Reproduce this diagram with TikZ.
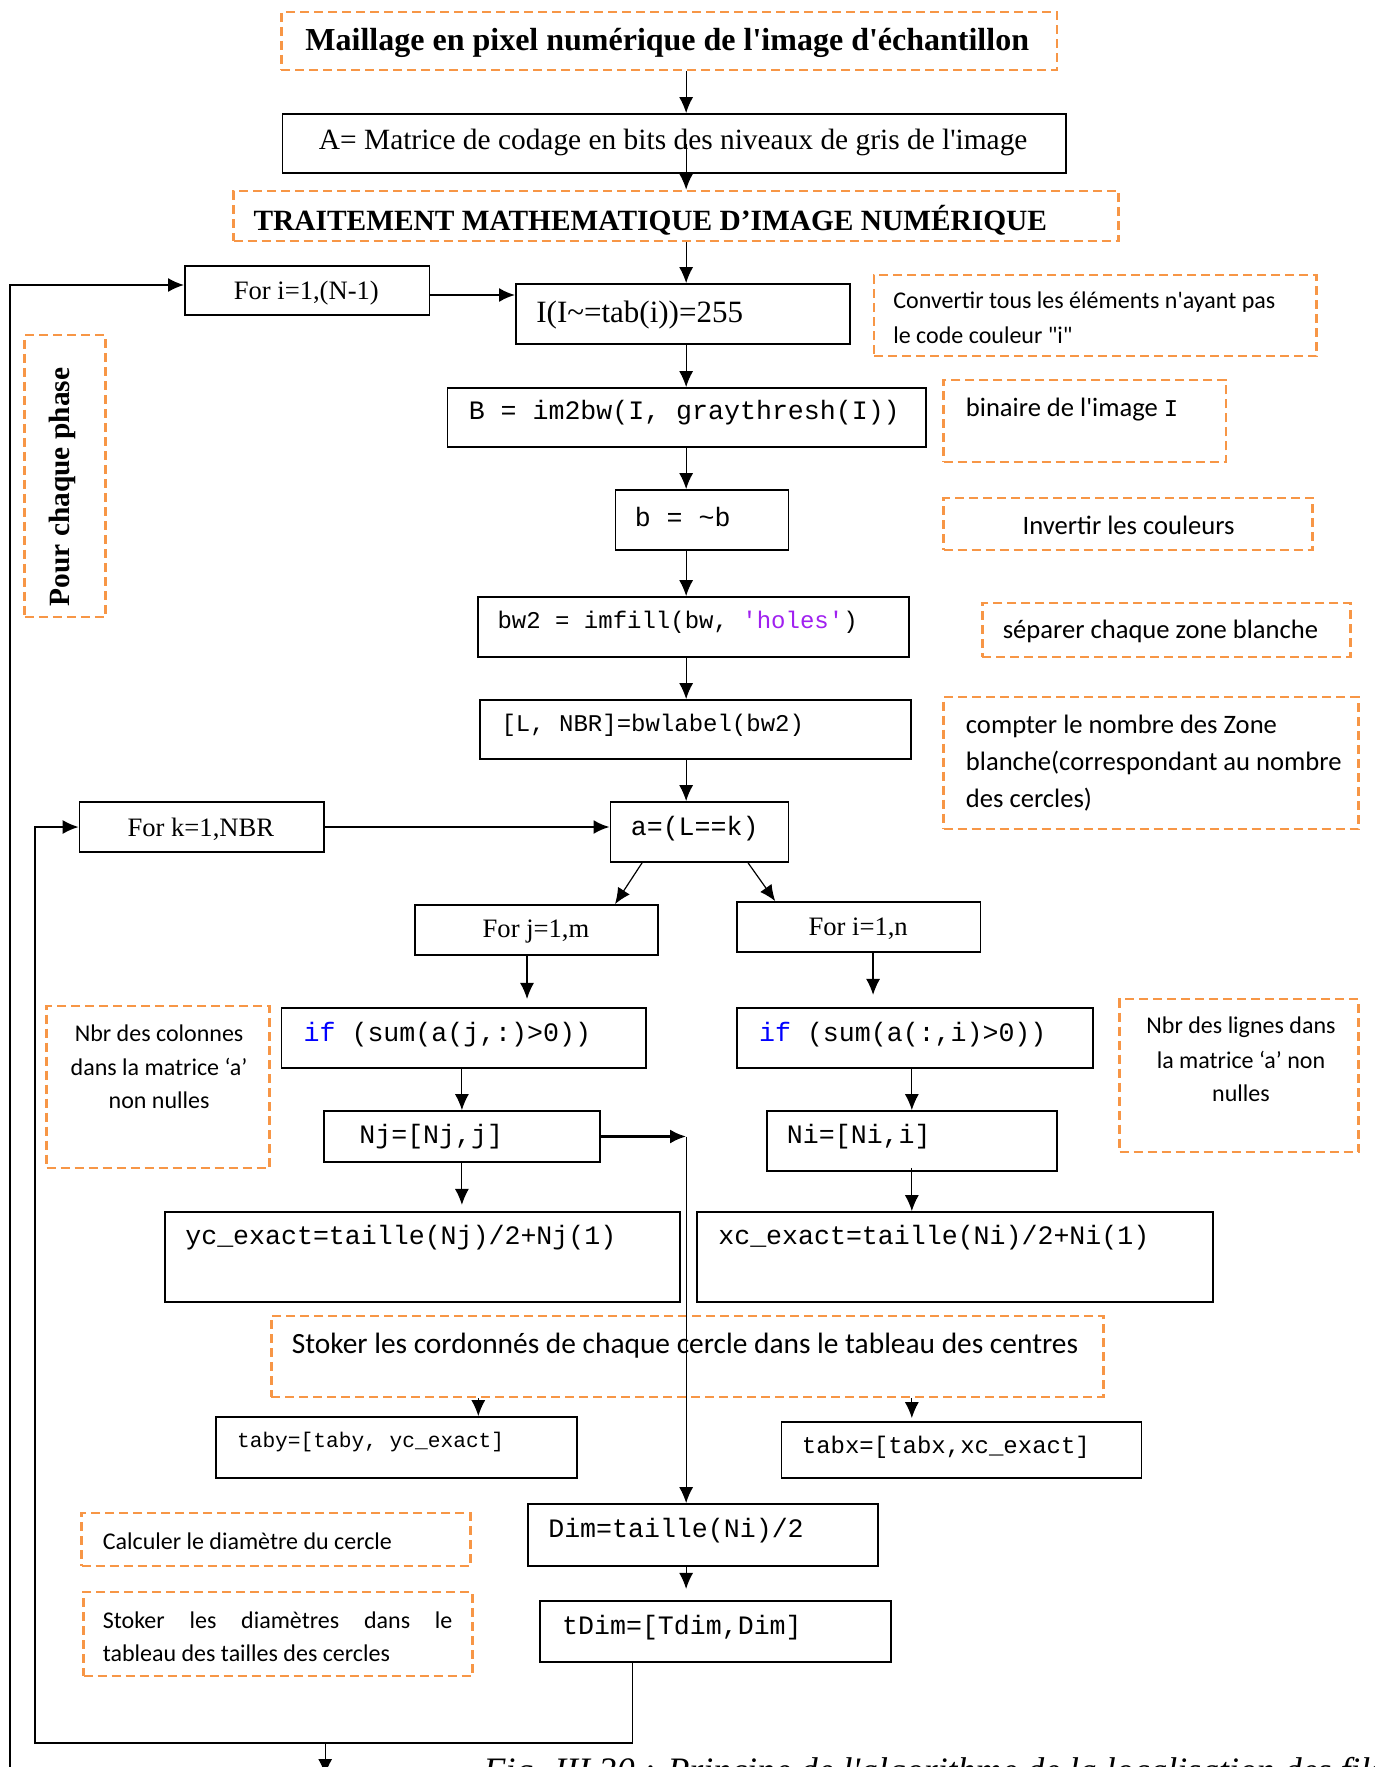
\documentclass[tikz,border=0pt]{standalone}
\usepackage{fontspec}
\setmainfont{Liberation Serif}
\setmonofont{Liberation Mono}
\newfontfamily\calfont{Carlito}
\usetikzlibrary{arrows.meta,fit,calc}
\definecolor{dashor}{HTML}{F79646}
\definecolor{mblue}{HTML}{0000FF}
\definecolor{mpurple}{HTML}{A020F0}
\newcommand\myfs[1]{\fontsize{#1}{#1}\selectfont}
\newcommand\sq{\textquotesingle}
\begin{document}
\begin{tikzpicture}[x=0.4972pt,y=-0.5pt,
  box/.style={draw,line width=0.9pt,inner sep=0pt},
  dbox/.style={draw=dashor,line width=1.4pt,dash pattern=on 4.5pt off 2.5pt,inner sep=0pt},
  arr/.style={-{Latex[length=8pt,width=7pt]},line width=0.6pt},
  tarr/.style={-{Latex[length=8pt,width=7pt]},line width=1.3pt},
  lloop/.style={-{Latex[length=8pt,width=7pt]},line width=0.9pt},
  txt/.style={inner sep=0pt},
  code/.style={txt,anchor=west,font=\ttfamily\myfs{13.3pt}},
  scode/.style={txt,anchor=west,font=\ttfamily\myfs{12pt}},
  cal/.style={txt,font=\calfont\myfs{12pt}},
  calb/.style={txt,font=\calfont\myfs{13.3pt}},
  ser/.style={txt,font=\myfs{13.3pt}}]
\useasboundingbox (0,0) rectangle (1382,1767);
\clip (0,0) rectangle (1382,1767);
\fill[white] (0,0) rectangle (1382,1767);

% ---------- boxes ----------
\node[dbox,fit={(283,12) (1063,70)}] (title) {};
\node[box,fit={(284,114) (1072,173)}] (A) {};
\node[dbox,fit={(235,191) (1125,241)}] (TR) {};
\node[box,fit={(186,266) (432,315)}] (Fori) {};
\node[box,fit={(519,284) (855,344)}] (I) {};
\node[dbox,fit={(879,275) (1324,356)}] (Conv) {};
\node[box,fit={(450,388) (931,447)}] (B) {};
\node[dbox,fit={(949,380) (1233,462)}] (Bin) {};
\node[box,fit={(619,490) (793,550)}] (b) {};
\node[dbox,fit={(949,498) (1320,550)}] (Inv) {};
\node[box,fit={(481,597) (914,657)}] (bw2) {};
\node[dbox,fit={(988,603) (1358,657)}] (Sep) {};
\node[box,fit={(483,700) (916,759)}] (L) {};
\node[dbox,fit={(949,697) (1366,829)}] (Cmp) {};
\node[box,fit={(614,802) (793,862)}] (a) {};
\node[box,fit={(80,802) (326,852)}] (Fork) {};
\node[box,fit={(417,905) (662,955)}] (Forj) {};
\node[box,fit={(741,902) (986,952)}] (Forin) {};
\node[box,fit={(283,1008) (650,1068)}] (if1) {};
\node[box,fit={(741,1008) (1099,1068)}] (if2) {};
\node[dbox,fit={(47,1006) (271,1168)}] (NbrC) {};
\node[dbox,fit={(1126,999) (1366,1152)}] (NbrL) {};
\node[box,fit={(326,1111) (603,1162)}] (Nj) {};
\node[box,fit={(771,1111) (1063,1171)}] (Ni) {};
\node[box,fit={(166,1212) (684,1302)}] (yc) {};
\node[box,fit={(701,1212) (1220,1302)}] (xc) {};
\node[dbox,fit={(273,1316) (1110,1397)}] (Stk) {};
\node[box,fit={(217,1417) (580,1478)}] (taby) {};
\node[box,fit={(786,1422) (1148,1478)}] (tabx) {};
\node[box,fit={(531,1504) (883,1566)}] (Dim) {};
\node[box,fit={(543,1601) (896,1662)}] (tDim) {};
\node[dbox,fit={(82,1513) (473,1566)}] (Calc) {};
\node[dbox,fit={(84,1592) (475,1676)}] (StkD) {};
\node[dbox,fit={(25,335) (106,617)}] (Pour) {};

% ---------- texts ----------
\node[txt,font=\bfseries\myfs{16pt}] (tTitle) at (671,43) {Maillage en pixel numérique de l\sq image d\sq échantillon};
\node[txt,font=\myfs{14.7pt}] (tA) at (677,142) {A= Matrice de codage en bits des niveaux de gris de l\sq image};
\node[txt,font=\bfseries\myfs{14.7pt}] (tTR) at (654,220) {TRAITEMENT MATHEMATIQUE D’IMAGE NUMÉRIQUE};
\node[ser] (tFori) at (308,293) {For i=1,(N-1)};
\node[txt,anchor=west,font=\myfs{15.5pt}] (tI) at (539,315) {I(I\textasciitilde=tab(i))=255};
\node[cal,anchor=west] (tConv1) at (898,302) {Convertir tous les éléments n'ayant pas};
\node[cal,anchor=west] (tConv2) at (898,335) {le code couleur "i"};
\node[code] (tB) at (471,413) {B = im2bw(I, graythresh(I))};
\node[calb,anchor=west] (tBin) at (971,410) {binaire de l'image {\ttfamily\myfs{12pt}I}};
\node[code] (tb) at (638,517) {b = \textasciitilde b};
\node[calb] (tInv) at (1135,525) {Invertir les couleurs};
\node[scode] (tbw2) at (500,622) {bw2 = imfill(bw, {\color{mpurple}'holes'})};
\node[calb,anchor=west] (tSep) at (1008,631) {séparer chaque zone blanche};
\node[scode] (tL) at (504,725) {[L, NBR]=bwlabel(bw2)};
\node[calb,anchor=west] (tCmp1) at (971,726) {compter le nombre des Zone};
\node[calb,anchor=west] (tCmp2) at (971,763) {blanche(correspondant au nombre};
\node[calb,anchor=west] (tCmp3) at (971,800) {des cercles)};
\node[code] (ta) at (634,829) {a=(L==k)};
\node[ser] (tFork) at (202,829) {For k=1,NBR};
\node[ser] (tForj) at (539,932) {For j=1,m};
\node[ser] (tForin) at (863,929) {For i=1,n};
\node[code] (tif1) at (305,1035) {{\color{mblue}if} (sum(a(j,:)>0))};
\node[code] (tif2) at (763,1035) {{\color{mblue}if} (sum(a(:,i)>0))};
\node[cal] (tNC1) at (160,1033) {Nbr des colonnes};
\node[cal] (tNC2) at (160,1067) {dans la matrice ‘a’};
\node[cal] (tNC3) at (160,1100) {non nulles};
\node[cal] (tNL1) at (1248,1027) {Nbr des lignes dans};
\node[cal] (tNL2) at (1248,1060) {la matrice ‘a’ non};
\node[cal] (tNL3) at (1248,1093) {nulles};
\node[code] (tNj) at (361,1137) {Nj=[Nj,j]};
\node[code] (tNi) at (791,1137) {Ni=[Ni,i]};
\node[code] (tyc) at (186,1238) {yc\_exact=taille(Nj)/2+Nj(1)};
\node[code] (txc) at (722,1238) {xc\_exact=taille(Ni)/2+Ni(1)};
\node[txt,anchor=west,font=\calfont\myfs{14.7pt}] (tStk) at (293,1346) {Stoker les cordonnés de chaque cercle dans le tableau des centres};
\node[txt,anchor=west,font=\ttfamily\myfs{10.6pt}] (ttaby) at (238,1442) {taby=[taby, yc\_exact]};
\node[scode] (ttabx) at (806,1447) {tabx=[tabx,xc\_exact]};
\node[code] (tDimT) at (551,1531) {Dim=taille(Ni)/2};
\node[code] (ttDim) at (565,1628) {tDim=[Tdim,Dim]};
\node[cal,anchor=west] (tCalc) at (103,1541) {Calculer le diamètre du cercle};
\node[cal,anchor=west] (tSD1) at (103,1620) {\makebox[174.8pt][s]{Stoker les diamètres dans le}};
\node[cal,anchor=west] (tSD2) at (103,1653) {tableau des tailles des cercles};
\node[txt,rotate=90,font=\bfseries\myfs{14.7pt}] (tPour) at (63,487) {Pour chaque phase};
\node[txt,anchor=base west,font=\itshape\myfs{17.9pt}] (tCap) at (486,1782) {Fig. III.30 : Principe de l\sq algorithme de la localisation des fils};

% ---------- connectors ----------
\coordinate (m) at (690,0);
\draw[arr] (title.south -| m) -- (A.north -| m);
\draw[arr] (A.center -| m) -- (TR.north -| m);
\draw[arr] (TR.south -| m) -- (I.north -| m);
\draw[arr] (I.south -| m) -- (B.north -| m);
\draw[arr] (B.south -| m) -- (b.north -| m);
\draw[arr] (b.south -| m) -- (bw2.north -| m);
\draw[arr] (bw2.south -| m) -- (L.north -| m);
\draw[arr] (L.south -| m) -- (a.north -| m);

\coordinate (yfi) at (0,295);
\draw[tarr] (Fori.east |- yfi) -- (I.west |- yfi);
\coordinate (ob) at (10,1780);
\coordinate (yo) at (0,285);
\draw[lloop] (ob) |- (Fori.west |- yo);

\draw[tarr] (Fork.east) -- (Fork.east -| a.west);
\coordinate (il) at (35,0);
\coordinate (lb) at (0,1743);
\coordinate (tx) at (636,0);
\draw[lloop] (tDim.south -| tx) |- (lb -| il) |- (Fork.west);
\coordinate (bx) at (327,0);
\draw[arr] (lb -| bx) -- ++(0,32);

\draw[arr] ($(a.south west)!0.18!(a.south east)$) -- ($(Forj.north west)!0.82!(Forj.north east)$);
\draw[arr] ($(a.south west)!0.77!(a.south east)$) -- ($(Forin.north west)!0.16!(Forin.north east)$);

\coordinate (c530) at (530,0);
\draw[arr] (Forj.south -| c530) -- ++(0,43);
\coordinate (c878) at (878,0);
\draw[arr] (Forin.south -| c878) -- ++(0,42);
\draw[arr] (if1.south -| Nj.north) -- (Nj.north);
\draw[arr] (if2.south -| Ni.north) -- (Ni.north);
\draw[arr] (Nj.south) -- ++(0,42);
\draw[arr] ($(Ni.south)+(0,-4)$) -- (Ni.south |- xc.north);
\draw[tarr] (Nj.east) -- (Nj.east -| m);
\draw[arr] (Nj.east -| m) -- (Dim.north -| m);
\coordinate (c481) at (481,0);
\draw[arr] (Stk.south -| c481) -- (taby.north -| c481);
\draw[arr] (Stk.south -| Ni.south) -- ($(tabx.north -| Ni.south)+(0,-3)$);
\draw[arr] (Dim.south -| m) -- ++(0,22);
\end{tikzpicture}
\end{document}
